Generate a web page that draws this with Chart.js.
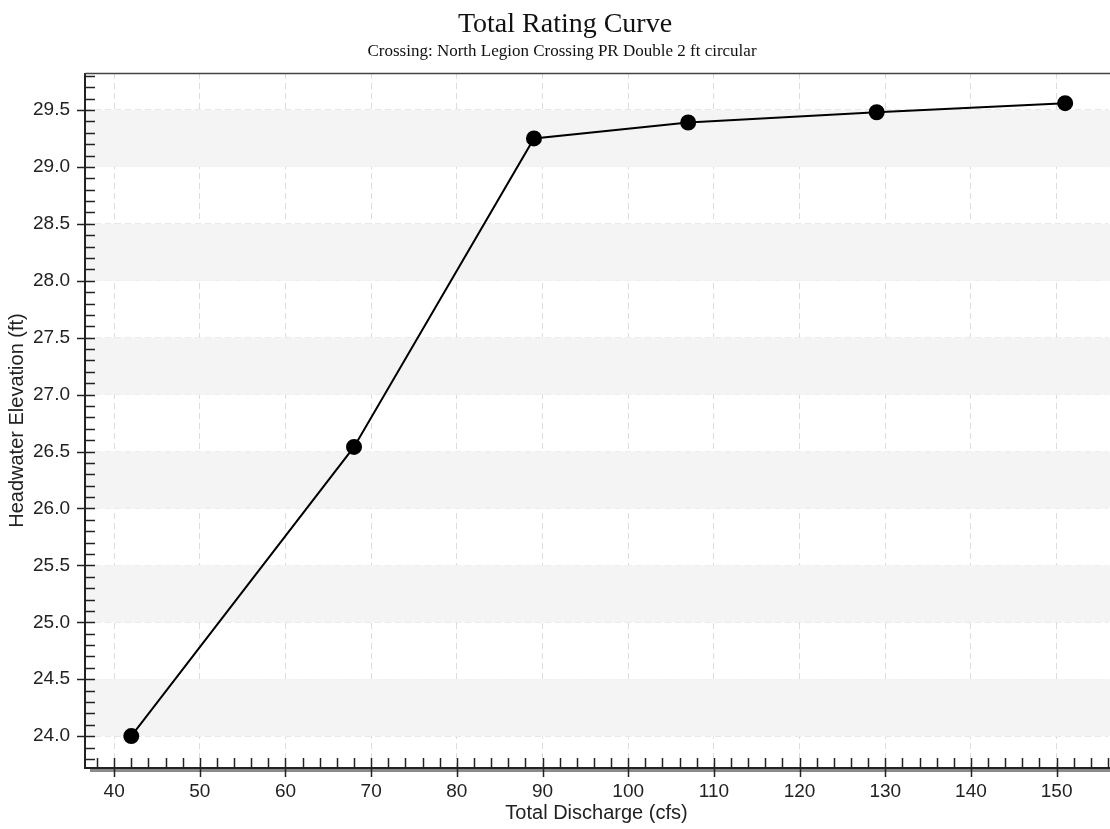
<!DOCTYPE html>
<html>
<head>
<meta charset="utf-8">
<script src="https://cdn.jsdelivr.net/npm/chart.js@4"></script>
<style>
  html, body { margin: 0; padding: 0; background: #fff; }
  #wrap { width: 1110px; height: 829px; }
</style>
</head>
<body>
<div id="wrap"><canvas id="chart"></canvas></div>
<script>
// data
const discharge = [42, 68, 89, 107, 129, 151];
const elevation = [24.0, 26.54, 29.25, 29.39, 29.48, 29.56];

const xTicks = [40, 50, 60, 70, 80, 90, 100, 110, 120, 130, 140, 150];
const yTicks = [24.0, 24.5, 25.0, 25.5, 26.0, 26.5, 27.0, 27.5, 28.0, 28.5, 29.0, 29.5];

const titleText = "Total Rating Curve";
const subtitleText = "Crossing: North Legion Crossing PR Double 2 ft circular";

// draws the shaded bands, the inside tick marks, axis shadow and the titles
const decor = {
  id: "decor",
  beforeDatasetsDraw(chart) {
    const { ctx, chartArea: a, scales: { x, y } } = chart;
    ctx.save();
    ctx.fillStyle = "#f4f4f4";
    yTicks.forEach(v => {
      if (Math.abs(v % 1) > 0.01) return;
      const y1 = y.getPixelForValue(v + 0.5);
      const y2 = y.getPixelForValue(v);
      ctx.fillRect(a.left, y1, chart.width - a.left, y2 - y1);
    });
    ctx.restore();
  },
  afterDraw(chart) {
    const { ctx, chartArea: a, scales: { x, y } } = chart;
    ctx.save();

    // shadow under the x axis
    ctx.fillStyle = "#8a8a8a";
    ctx.fillRect(a.left + 5, a.bottom + 1, chart.width - a.left - 5, 3);

    // axis lines
    ctx.strokeStyle = "#222";
    ctx.lineWidth = 2;
    ctx.beginPath();
    ctx.moveTo(a.left, a.top);
    ctx.lineTo(a.left, a.bottom);
    ctx.lineTo(chart.width, a.bottom);
    ctx.stroke();
    ctx.lineWidth = 1.5;
    ctx.strokeStyle = "#444";
    ctx.beginPath();
    ctx.moveTo(a.left, a.top + 0.5);
    ctx.lineTo(chart.width, a.top + 0.5);
    ctx.stroke();

    // tick marks
    ctx.strokeStyle = "#222";
    ctx.lineWidth = 1.5;
    ctx.beginPath();
    for (let v = 38; v <= x.max; v += 2) {
      const px = Math.round(x.getPixelForValue(v)) + 0.5;
      const major = v % 10 === 0;
      ctx.moveTo(px, a.bottom - 10);
      ctx.lineTo(px, a.bottom + (major ? 9 : 0));
    }
    for (let i = 238; i <= 298; i++) {
      const v = i / 10;
      const py = Math.round(y.getPixelForValue(v)) + 0.5;
      const major = i % 5 === 0;
      ctx.moveTo(a.left + 10, py);
      ctx.lineTo(a.left - (major ? 8 : 0), py);
    }
    ctx.stroke();

    // titles
    ctx.fillStyle = "#111";
    ctx.textAlign = "center";
    ctx.textBaseline = "alphabetic";
    ctx.font = "28px 'Liberation Serif', 'Times New Roman', serif";
    ctx.fillText(titleText, 565, 32);
    ctx.font = "17px 'Liberation Serif', 'Times New Roman', serif";
    ctx.fillText(subtitleText, 562, 56);
    ctx.restore();
  }
};

new Chart(document.getElementById("chart"), {
  type: "line",
  data: {
    datasets: [{
      data: discharge.map((d, i) => ({ x: d, y: elevation[i] })),
      borderColor: "#000",
      backgroundColor: "#000",
      borderWidth: 2,
      pointRadius: 7,
      pointHoverRadius: 7,
      tension: 0,
      clip: false
    }]
  },
  options: {
    responsive: true,
    maintainAspectRatio: false,
    animation: false,
    layout: { autoPadding: false, padding: { top: 73, right: 2, left: 0, bottom: 0 } },
    plugins: {
      legend: { display: false },
      tooltip: { enabled: false }
    },
    scales: {
      x: {
        type: "linear",
        min: 36.6,
        max: 156,
        afterBuildTicks: s => { s.ticks = xTicks.map(v => ({ value: v })); },
        afterFit: s => { s.height = 61; },
        ticks: {
          padding: 12,
          color: "#222",
          font: { family: "'Liberation Sans', Arial, sans-serif", size: 19 }
        },
        grid: { color: "#dcdcdc", drawTicks: false },
        border: { display: false, dash: [6, 4] },
        title: {
          display: true,
          text: "Total Discharge (cfs)",
          color: "#222",
          font: { family: "'Liberation Sans', Arial, sans-serif", size: 20 },
          padding: { top: 0, bottom: 4 }
        }
      },
      y: {
        type: "linear",
        min: 23.72,
        max: 29.825,
        afterBuildTicks: s => { s.ticks = yTicks.map(v => ({ value: v })); },
        afterFit: s => { s.width = 85; },
        ticks: {
          padding: 15,
          color: "#222",
          font: { family: "'Liberation Sans', Arial, sans-serif", size: 19 },
          callback: v => Number(v).toFixed(1)
        },
        grid: { color: "#e6e6e6", drawTicks: false },
        border: { display: false, dash: [6, 4] },
        title: {
          display: true,
          text: "Headwater Elevation (ft)",
          color: "#222",
          font: { family: "'Liberation Sans', Arial, sans-serif", size: 20 },
          padding: { top: 5, bottom: 0 }
        }
      }
    }
  },
  plugins: [decor]
});
</script>
</body>
</html>
